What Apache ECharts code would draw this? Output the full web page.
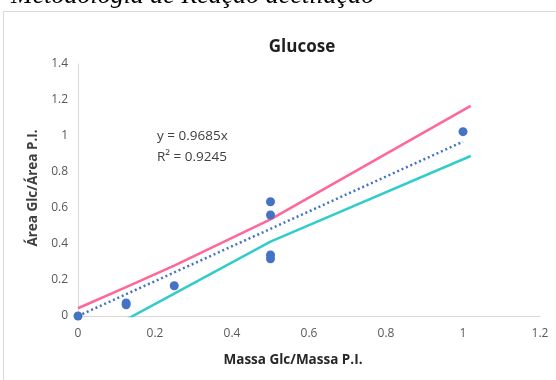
<!DOCTYPE html>
<html>
<head>
<meta charset="utf-8">
<script src="https://cdn.jsdelivr.net/npm/echarts@6/dist/echarts.min.js"></script>
<style>
  html, body { margin: 0; padding: 0; background: #ffffff; }
  #chart { width: 556px; height: 380px; }
</style>
</head>
<body>
<div id="chart"></div>
<script>
// Measured points: mass ratio (Glc / P.I.) vs. peak area ratio (Glc / P.I.)
const massRatio = [0, 0.125, 0.125, 0.25, 0.5, 0.5, 0.5, 0.5, 1.0];
const areaRatio = [0, 0.072, 0.062, 0.168, 0.635, 0.561, 0.339, 0.318, 1.024];

// Linear fit through the origin
const fitSlope = 0.9685;
const fitR2 = 0.9245;
const fitRangeX = [0, 1.0];

// Upper and lower limit curves
const upperX = [0, 0.125, 0.25, 0.5, 1.02];
const upperY = [0.043, 0.16, 0.28, 0.537, 1.167];
const lowerX = [0.125, 0.25, 0.5, 1.02];
const lowerY = [-0.02, 0.124, 0.413, 0.889];

// Axis ticks
const xTicks = [0, 0.2, 0.4, 0.6, 0.8, 1, 1.2];
const yTicks = [0, 0.2, 0.4, 0.6, 0.8, 1, 1.2, 1.4];

const zip = (xs, ys) => xs.map((x, i) => [x, ys[i]]);

const chart = echarts.init(document.getElementById('chart'), null, { renderer: 'canvas' });

const baseFont = '"Open Sans", "Liberation Sans", sans-serif';

chart.setOption({
  animation: false,
  backgroundColor: '#ffffff',
  grid: { left: 78, right: 16, top: 64, bottom: 64, containLabel: false },
  xAxis: {
    type: 'value',
    min: xTicks[0],
    max: xTicks[xTicks.length - 1],
    interval: 0.2,
    axisLine: { show: true, lineStyle: { color: '#d9d9d9', width: 1 } },
    axisTick: { show: false },
    splitLine: { show: false },
    axisLabel: { color: '#595959', fontSize: 12, fontFamily: baseFont, margin: 12 }
  },
  yAxis: {
    type: 'value',
    min: yTicks[0],
    max: yTicks[yTicks.length - 1],
    interval: 0.2,
    axisLine: { show: true, lineStyle: { color: '#d9d9d9', width: 1 } },
    axisTick: { show: false },
    splitLine: { show: false },
    axisLabel: { color: '#595959', fontSize: 12, fontFamily: baseFont, margin: 10 }
  },
  series: [
    {
      name: 'upper',
      type: 'line',
      data: zip(upperX, upperY),
      showSymbol: false,
      clip: true,
      lineStyle: { color: '#ff6699', width: 2.5 },
      z: 2
    },
    {
      name: 'lower',
      type: 'line',
      data: zip(lowerX, lowerY),
      showSymbol: false,
      clip: true,
      lineStyle: { color: '#33cccc', width: 2.5 },
      z: 2
    },
    {
      name: 'fit',
      type: 'line',
      data: fitRangeX.map(x => [x, fitSlope * x]),
      showSymbol: false,
      lineStyle: { color: '#4472c4', width: 2.5, type: [2, 2.8] },
      z: 3
    },
    {
      name: 'Glucose',
      type: 'scatter',
      data: zip(massRatio, areaRatio),
      symbol: 'circle',
      symbolSize: 9,
      itemStyle: { color: '#4472c4', opacity: 1 },
      clip: false,
      z: 4
    }
  ],
  graphic: [
    {
      type: 'rect',
      shape: { x: 3.5, y: 11.5, width: 600, height: 400 },
      style: { fill: 'none', stroke: '#d9d9d9', lineWidth: 1 },
      silent: true,
      z: -1
    },
    {
      type: 'text',
      left: 11, top: -17,
      style: {
        text: 'Metodologia de Reação acetilação',
        font: 'italic 26px "Liberation Serif", "DejaVu Serif", serif',
        fill: '#000000'
      }
    },
    {
      type: 'text',
      x: 302, y: 47,
      style: {
        text: 'Glucose',
        font: 'bold 17px ' + baseFont,
        fill: '#1f1f1f',
        align: 'center',
        verticalAlign: 'middle'
      }
    },
    {
      type: 'text',
      x: 293, y: 360,
      style: {
        text: 'Massa Glc/Massa P.I.',
        font: 'bold 13.5px ' + baseFont,
        fill: '#262626',
        align: 'center',
        verticalAlign: 'middle'
      }
    },
    {
      type: 'text',
      x: 33, y: 188,
      rotation: Math.PI / 2,
      style: {
        text: 'Área Glc/Área P.I.',
        font: 'bold 13.5px ' + baseFont,
        fill: '#404040',
        align: 'center',
        verticalAlign: 'middle'
      }
    },
    {
      type: 'text',
      x: 157, y: 136,
      style: {
        text: 'y = ' + fitSlope.toFixed(4) + 'x',
        font: '13.5px ' + baseFont,
        fill: '#404040',
        verticalAlign: 'middle'
      }
    },
    {
      type: 'text',
      x: 157, y: 157,
      style: {
        text: 'R² = ' + fitR2.toFixed(4),
        font: '13.5px ' + baseFont,
        fill: '#404040',
        verticalAlign: 'middle'
      }
    }
  ]
});
</script>
</body>
</html>
